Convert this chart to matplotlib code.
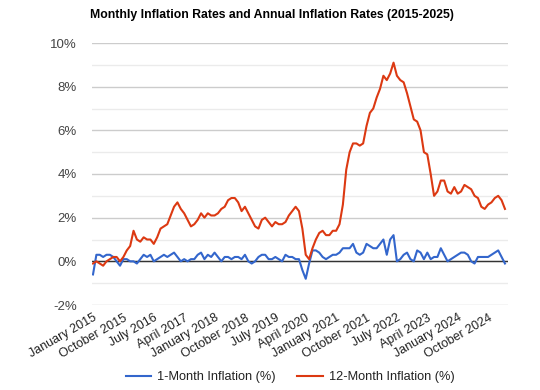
import matplotlib
matplotlib.use("Agg")
import matplotlib.pyplot as plt
from matplotlib.ticker import MultipleLocator

plt.rcParams['font.family'] = ['Liberation Sans', 'DejaVu Sans']

# Monthly data, January 2015 - March 2025
monthly = [
    -0.6, 0.3, 0.3, 0.2, 0.3, 0.3, 0.2, 0.0, -0.2, 0.1, 0.1, 0.0,   # 2015
    0.0, -0.1, 0.1, 0.3, 0.2, 0.3, 0.0, 0.1, 0.2, 0.3, 0.2, 0.3,    # 2016
    0.4, 0.2, 0.0, 0.1, 0.0, 0.1, 0.1, 0.3, 0.4, 0.1, 0.3, 0.2,     # 2017
    0.4, 0.2, 0.0, 0.2, 0.2, 0.1, 0.2, 0.2, 0.1, 0.3, 0.0, -0.1,    # 2018
    0.0, 0.2, 0.3, 0.3, 0.1, 0.1, 0.2, 0.1, 0.0, 0.3, 0.2, 0.2,     # 2019
    0.1, 0.1, -0.4, -0.8, -0.1, 0.5, 0.5, 0.4, 0.2, 0.1, 0.2, 0.3,  # 2020
    0.3, 0.4, 0.6, 0.6, 0.6, 0.8, 0.4, 0.3, 0.4, 0.8, 0.7, 0.6,     # 2021
    0.6, 0.8, 1.0, 0.3, 1.0, 1.2, 0.0, 0.1, 0.3, 0.4, 0.1, 0.0,     # 2022
    0.5, 0.4, 0.1, 0.4, 0.1, 0.2, 0.2, 0.6, 0.3, 0.0, 0.1, 0.2,     # 2023
    0.3, 0.4, 0.4, 0.3, 0.0, -0.1, 0.2, 0.2, 0.2, 0.2, 0.3, 0.4,    # 2024
    0.5, 0.2, -0.1,                                                 # 2025
]
annual = [
    -0.1, 0.0, -0.1, -0.2, 0.0, 0.1, 0.2, 0.2, 0.0, 0.2, 0.5, 0.7,  # 2015
    1.4, 1.0, 0.9, 1.1, 1.0, 1.0, 0.8, 1.1, 1.5, 1.6, 1.7, 2.1,     # 2016
    2.5, 2.7, 2.4, 2.2, 1.9, 1.6, 1.7, 1.9, 2.2, 2.0, 2.2, 2.1,     # 2017
    2.1, 2.2, 2.4, 2.5, 2.8, 2.9, 2.9, 2.7, 2.3, 2.5, 2.2, 1.9,     # 2018
    1.6, 1.5, 1.9, 2.0, 1.8, 1.6, 1.8, 1.7, 1.7, 1.8, 2.1, 2.3,     # 2019
    2.5, 2.3, 1.5, 0.3, 0.1, 0.6, 1.0, 1.3, 1.4, 1.2, 1.2, 1.4,     # 2020
    1.4, 1.7, 2.6, 4.2, 5.0, 5.4, 5.4, 5.3, 5.4, 6.2, 6.8, 7.0,     # 2021
    7.5, 7.9, 8.5, 8.3, 8.6, 9.1, 8.5, 8.3, 8.2, 7.7, 7.1, 6.5,     # 2022
    6.4, 6.0, 5.0, 4.9, 4.0, 3.0, 3.2, 3.7, 3.7, 3.2, 3.1, 3.4,     # 2023
    3.1, 3.2, 3.5, 3.4, 3.3, 3.0, 2.9, 2.5, 2.4, 2.6, 2.7, 2.9,     # 2024
    3.0, 2.8, 2.4,                                                  # 2025
]
month_names = ["January", "February", "March", "April", "May", "June", "July",
               "August", "September", "October", "November", "December"]
start_year = 2015
tick_step = 9

n = len(monthly)
x = list(range(n))
labels_all = [f"{month_names[i % 12]} {start_year + i // 12}" for i in x]

fig = plt.figure(figsize=(5.4, 3.9), dpi=100)
ax = fig.add_axes([92/540, 1 - 305/390, (508 - 92)/540, (305 - 43)/390])

ax.plot(x, monthly, color='#3366CC', lw=1.5, label='1-Month Inflation (%)', zorder=3,
        solid_joinstyle='round')
ax.plot(x, annual, color='#DC3912', lw=1.5, label='12-Month Inflation (%)', zorder=3,
        solid_joinstyle='round')

ax.set_ylim(-2, 10)
ax.set_xlim(-0.3, n - 1 + 0.9)
ax.yaxis.set_minor_locator(MultipleLocator(1))
yt = list(range(-2, 11, 2))
ax.set_yticks(yt)
ax.set_yticklabels([f"{v}%" for v in yt])
ax.grid(which='major', axis='y', color='#cccccc', lw=1)
ax.grid(which='minor', axis='y', color='#ebebeb', lw=1)
ax.axhline(0, color='#333333', lw=1, zorder=2)
ax.set_axisbelow(True)

tick_pos = x[::tick_step]
ax.set_xticks(tick_pos)
ax.set_xticklabels([labels_all[i] for i in tick_pos], rotation=30, ha='right',
                   rotation_mode='anchor', fontsize=9, color='#222222')
ax.tick_params(axis='y', labelsize=9.5, colors='#444444', length=0, pad=11)
ax.tick_params(axis='x', length=0, pad=5)
ax.tick_params(which='minor', length=0)
for s in ax.spines.values():
    s.set_visible(False)

fig.suptitle("Monthly Inflation Rates and Annual Inflation Rates (2015-2025)",
             x=0.503, y=1 - 9/390, va='top', fontsize=8.8, fontweight='bold')

leg = fig.legend(loc='center', bbox_to_anchor=(290/540, 1 - 377/390), ncol=2,
                 frameon=False, fontsize=9.2, handlelength=2.0, columnspacing=1.7,
                 handletextpad=0.45)
for t in leg.get_texts():
    t.set_color('#222222')

fig.savefig("out.png", dpi=100)
